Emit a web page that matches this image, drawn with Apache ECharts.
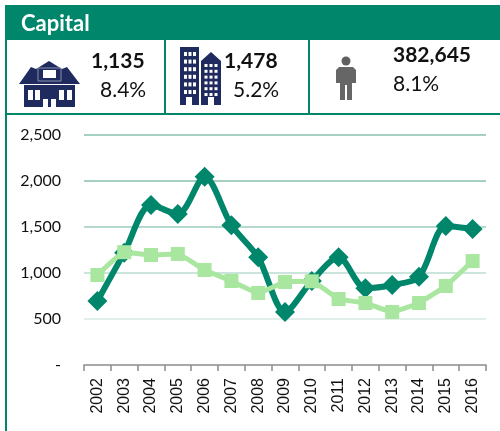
<!DOCTYPE html>
<html><head><meta charset="utf-8">
<style>html,body{margin:0;padding:0;background:#fff}#c{width:500px;height:431px}</style>
<script src="https://cdn.jsdelivr.net/npm/echarts@6/dist/echarts.min.js"></script></head>
<body><div id="c"></div>
<script>
const years=['2002','2003','2004','2005','2006','2007','2008','2009','2010','2011','2012','2013','2014','2015','2016'];
const darkSeries=[696,1220,1739,1640,2046,1520,1170,576,913,1170,835,870,960,1510,1478];
const lightSeries=[978,1226,1196,1207,1033,913,783,902,910,717,674,576,674,859,1130];
const title='Capital';
const stats=[['1,135','8.4%'],['1,478','5.2%'],['382,645','8.1%']];
const GREEN='#00866b', LIGHT='#a9e6a0', NAVY='#1f2a5e';
const font='Lato, "Open Sans", sans-serif';
const chart=echarts.init(document.getElementById('c'),null,{renderer:'canvas'});
function R(x,y,w,h,fill,z){return {type:'rect',shape:{x,y,width:w,height:h},style:{fill},z:z||10,silent:true};}
function P(points,fill){return {type:'polygon',shape:{points},style:{fill},z:10,silent:true};}
function T(x,y,text,size,weight,fill){return {type:'text',x,y,style:{text,font:(weight||'normal')+' '+size+'px '+font,fill:fill||'#111',verticalAlign:'middle'},z:12,silent:true};}
const g=[
 R(5,5,495,35,GREEN), R(5,40,2,391,GREEN),
 R(5,113,495,2,GREEN), R(164,40,2,73,GREEN), R(308,40,2,73,GREEN),
 T(21,24,title,22,'bold','#fff'),
 T(91,61,stats[0][0],21,'bold'), T(100,90,stats[0][1],21),
 T(224,61,stats[1][0],21,'bold'), T(233,90,stats[1][1],21),
 T(393,55,stats[2][0],21,'bold'), T(393,84,stats[2][1],21),
 // house
 P([[19,84],[31,67],[36,69],[49,61],[62,69],[67,67],[80,84]],NAVY),
 R(24,85,51,22,NAVY),
 {type:'rect',shape:{x:38,y:68,width:23,height:13},style:{fill:NAVY,stroke:'#8c90ad',lineWidth:1},z:11,silent:true},
 R(43,70,13,8,'#fff',12),
 R(28,90,5,10,'#fff',11),R(35,90,5,10,'#fff',11),
 R(59,90,5,10,'#fff',11),R(67,90,5,10,'#fff',11),
 R(43,99,5,8,'#fff',11),R(51,99,5,8,'#fff',11),
 // tall building
 P([[180,47],[199,47],[199,105],[180,105]],NAVY),
 // short building
 P([[201,61],[211,52],[221,61],[221,105],[201,105]],NAVY)
];
// windows
for(let r=0;r<6;r++)for(let c=0;c<3;c++){g.push(R(184+c*4.5,52+r*7.6,3,4,'#fff'));}
for(let r=0;r<6;r++)for(let c=0;c<3;c++){g.push(R(204.5+c*5,64+r*5.8,3,3,'#fff'));}
g.push(R(186,97,6,8,'#fff'),R(208,97,6,8,'#fff'));
// person
g.push(
 {type:'circle',shape:{cx:346,cy:61,r:4.5},style:{fill:'#5f5f5f'},z:10,silent:true},
 P([[336,70],[339,67],[353,67],[356,70],[356,83],[352,83],[352,100],[347,100],[347,85],[345,85],[345,100],[340,100],[340,83],[336,83]],'#666')
);
const dashYLabel=v=>v===0?'-':v.toLocaleString('en-US');
chart.setOption({
 animation:false,
 backgroundColor:'#fff',
 graphic:{elements:g},
 grid:{left:84,top:135,width:402,height:230,containLabel:false},
 xAxis:{type:'category',data:years,boundaryGap:true,
  axisLine:{lineStyle:{color:'#8c8c8c',width:1.5}},
  axisTick:{show:true,alignWithLabel:false,length:6,lineStyle:{color:'#8c8c8c',width:1.5}},
  axisLabel:{rotate:90,interval:0,color:'#111',fontFamily:'"Liberation Sans", Arial, sans-serif',fontSize:16,margin:13}},
 yAxis:{type:'value',min:0,max:2500,interval:500,
  axisLine:{show:false},axisTick:{show:false},
  splitLine:{show:true,lineStyle:{width:2,color:['#fff','#e0efea','#cbe5dd','#b6d9cd','#a5d0c2','#a5d0c2']}},
  axisLabel:{formatter:dashYLabel,color:'#111',fontFamily:font,fontSize:16,margin:23}},
 series:[
  {name:'Dark',type:'line',data:darkSeries,smooth:0.3,symbol:'diamond',symbolSize:20,showSymbol:true,
   lineStyle:{color:GREEN,width:6},itemStyle:{color:GREEN},z:3},
  {name:'Light',type:'line',data:lightSeries,smooth:0.1,symbol:'rect',symbolSize:14,
   lineStyle:{color:LIGHT,width:5},itemStyle:{color:LIGHT},z:4}
 ]
});
</script></body></html>
